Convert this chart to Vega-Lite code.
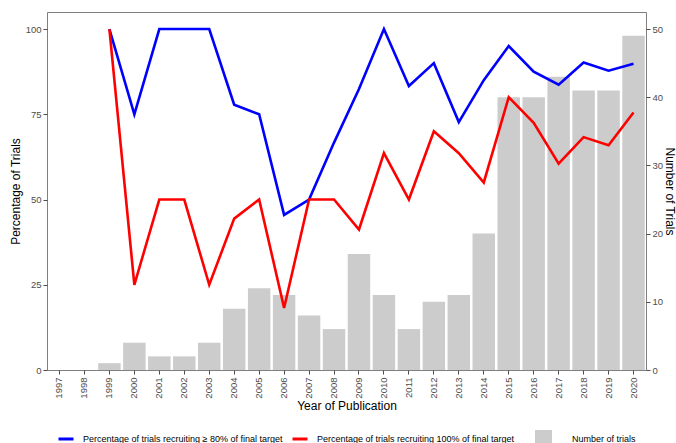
{
  "$schema": "https://vega.github.io/schema/vega-lite/v6.json",
  "width": 599,
  "height": 358,
  "autosize": {"type": "none"},
  "padding": {"left": 47, "top": 12, "right": 30, "bottom": 73},
  "background": "white",
  "config": {
    "font": "Liberation Sans",
    "view": {"stroke": "#7f7f7f", "strokeWidth": 1},
    "axis": {
      "domain": false,
      "grid": false,
      "labelColor": "#4d4d4d",
      "labelFontSize": 9.5,
      "labelPadding": 2,
      "tickColor": "#4d4d4d",
      "tickSize": 4,
      "titleColor": "black",
      "titleFontSize": 12,
      "titleFontWeight": "normal"
    },
    "legend": {
      "orient": "bottom",
      "direction": "horizontal",
      "labelFontSize": 9,
      "labelColor": "black",
      "labelLimit": 0,
      "title": null,
      "columnPadding": 3,
      "labelOffset": 8,
      "layout": {"bottom": {"anchor": "middle", "margin": 20}}
    }
  },
  "datasets": {
    "bars": [
      {"year": "1997", "count": 0},
      {"year": "1998", "count": 0},
      {"year": "1999", "count": 1},
      {"year": "2000", "count": 4},
      {"year": "2001", "count": 2},
      {"year": "2002", "count": 2},
      {"year": "2003", "count": 4},
      {"year": "2004", "count": 9},
      {"year": "2005", "count": 12},
      {"year": "2006", "count": 11},
      {"year": "2007", "count": 8},
      {"year": "2008", "count": 6},
      {"year": "2009", "count": 17},
      {"year": "2010", "count": 11},
      {"year": "2011", "count": 6},
      {"year": "2012", "count": 10},
      {"year": "2013", "count": 11},
      {"year": "2014", "count": 20},
      {"year": "2015", "count": 40},
      {"year": "2016", "count": 40},
      {"year": "2017", "count": 43},
      {"year": "2018", "count": 41},
      {"year": "2019", "count": 41},
      {"year": "2020", "count": 49}
    ],
    "lines": [
      {"year": "1999", "series": "Percentage of trials recruiting ≥ 80% of final target", "pct": 100},
      {"year": "2000", "series": "Percentage of trials recruiting ≥ 80% of final target", "pct": 75},
      {"year": "2001", "series": "Percentage of trials recruiting ≥ 80% of final target", "pct": 100},
      {"year": "2002", "series": "Percentage of trials recruiting ≥ 80% of final target", "pct": 100},
      {"year": "2003", "series": "Percentage of trials recruiting ≥ 80% of final target", "pct": 100},
      {"year": "2004", "series": "Percentage of trials recruiting ≥ 80% of final target", "pct": 77.8},
      {"year": "2005", "series": "Percentage of trials recruiting ≥ 80% of final target", "pct": 75},
      {"year": "2006", "series": "Percentage of trials recruiting ≥ 80% of final target", "pct": 45.5},
      {"year": "2007", "series": "Percentage of trials recruiting ≥ 80% of final target", "pct": 50},
      {"year": "2008", "series": "Percentage of trials recruiting ≥ 80% of final target", "pct": 66.7},
      {"year": "2009", "series": "Percentage of trials recruiting ≥ 80% of final target", "pct": 82.4},
      {"year": "2010", "series": "Percentage of trials recruiting ≥ 80% of final target", "pct": 100},
      {"year": "2011", "series": "Percentage of trials recruiting ≥ 80% of final target", "pct": 83.3},
      {"year": "2012", "series": "Percentage of trials recruiting ≥ 80% of final target", "pct": 90},
      {"year": "2013", "series": "Percentage of trials recruiting ≥ 80% of final target", "pct": 72.7},
      {"year": "2014", "series": "Percentage of trials recruiting ≥ 80% of final target", "pct": 85},
      {"year": "2015", "series": "Percentage of trials recruiting ≥ 80% of final target", "pct": 95},
      {"year": "2016", "series": "Percentage of trials recruiting ≥ 80% of final target", "pct": 87.5},
      {"year": "2017", "series": "Percentage of trials recruiting ≥ 80% of final target", "pct": 83.7},
      {"year": "2018", "series": "Percentage of trials recruiting ≥ 80% of final target", "pct": 90.2},
      {"year": "2019", "series": "Percentage of trials recruiting ≥ 80% of final target", "pct": 87.8},
      {"year": "2020", "series": "Percentage of trials recruiting ≥ 80% of final target", "pct": 89.8},
      {"year": "1999", "series": "Percentage of trials recruiting 100% of final target", "pct": 100},
      {"year": "2000", "series": "Percentage of trials recruiting 100% of final target", "pct": 25},
      {"year": "2001", "series": "Percentage of trials recruiting 100% of final target", "pct": 50},
      {"year": "2002", "series": "Percentage of trials recruiting 100% of final target", "pct": 50},
      {"year": "2003", "series": "Percentage of trials recruiting 100% of final target", "pct": 25},
      {"year": "2004", "series": "Percentage of trials recruiting 100% of final target", "pct": 44.4},
      {"year": "2005", "series": "Percentage of trials recruiting 100% of final target", "pct": 50},
      {"year": "2006", "series": "Percentage of trials recruiting 100% of final target", "pct": 18.2},
      {"year": "2007", "series": "Percentage of trials recruiting 100% of final target", "pct": 50},
      {"year": "2008", "series": "Percentage of trials recruiting 100% of final target", "pct": 50},
      {"year": "2009", "series": "Percentage of trials recruiting 100% of final target", "pct": 41.2},
      {"year": "2010", "series": "Percentage of trials recruiting 100% of final target", "pct": 63.6},
      {"year": "2011", "series": "Percentage of trials recruiting 100% of final target", "pct": 50},
      {"year": "2012", "series": "Percentage of trials recruiting 100% of final target", "pct": 70},
      {"year": "2013", "series": "Percentage of trials recruiting 100% of final target", "pct": 63.6},
      {"year": "2014", "series": "Percentage of trials recruiting 100% of final target", "pct": 55},
      {"year": "2015", "series": "Percentage of trials recruiting 100% of final target", "pct": 80},
      {"year": "2016", "series": "Percentage of trials recruiting 100% of final target", "pct": 72.5},
      {"year": "2017", "series": "Percentage of trials recruiting 100% of final target", "pct": 60.5},
      {"year": "2018", "series": "Percentage of trials recruiting 100% of final target", "pct": 68.3},
      {"year": "2019", "series": "Percentage of trials recruiting 100% of final target", "pct": 65.9},
      {"year": "2020", "series": "Percentage of trials recruiting 100% of final target", "pct": 75.5}
    ]
  },
  "layer": [
    {
      "data": {"name": "lines"},
      "transform": [{"filter": "false"}],
      "mark": {"type": "line", "strokeWidth": 2.6},
      "encoding": {
        "x": {"field": "year", "type": "ordinal"},
        "y": {"field": "pct", "type": "quantitative", "axis": null},
        "stroke": {
          "field": "series",
          "type": "nominal",
          "scale": {
            "domain": ["Percentage of trials recruiting ≥ 80% of final target", "Percentage of trials recruiting 100% of final target"],
            "range": ["#0000ff", "#ff0000"]
          },
          "legend": {"symbolType": "stroke", "symbolSize": 225, "symbolStrokeWidth": 3}
        }
      }
    },
    {
      "data": {"name": "bars"},
      "mark": {"type": "bar"},
      "encoding": {
        "x": {
          "field": "year",
          "type": "ordinal",
          "scale": {"paddingInner": 0.1, "paddingOuter": 0.05},
          "axis": {"title": "Year of Publication", "labelAngle": 270, "labelAlign": "right", "labelBaseline": "middle", "labelPadding": 3, "titlePadding": 2}
        },
        "y": {
          "field": "count",
          "type": "quantitative",
          "scale": {"domain": [0, 52.5], "nice": false, "zero": true},
          "axis": {"orient": "right", "title": "Number of Trials", "titleAngle": 90, "values": [0, 10, 20, 30, 40, 50], "titlePadding": 0}
        },
        "fill": {
          "datum": "Number of trials",
          "type": "nominal",
          "scale": {"range": ["#cccccc"]},
          "legend": {"symbolType": "square", "symbolSize": 289, "symbolStrokeWidth": 0, "labelOffset": 20}
        }
      }
    },
    {
      "data": {"name": "lines"},
      "mark": {"type": "line", "strokeWidth": 2.6},
      "encoding": {
        "x": {"field": "year", "type": "ordinal"},
        "y": {
          "field": "pct",
          "type": "quantitative",
          "scale": {"domain": [0, 105], "nice": false},
          "axis": {"orient": "left", "title": "Percentage of Trials", "values": [0, 25, 50, 75, 100], "titlePadding": 3}
        },
        "stroke": {"field": "series", "type": "nominal"}
      }
    }
  ],
  "resolve": {"scale": {"y": "independent"}}
}
